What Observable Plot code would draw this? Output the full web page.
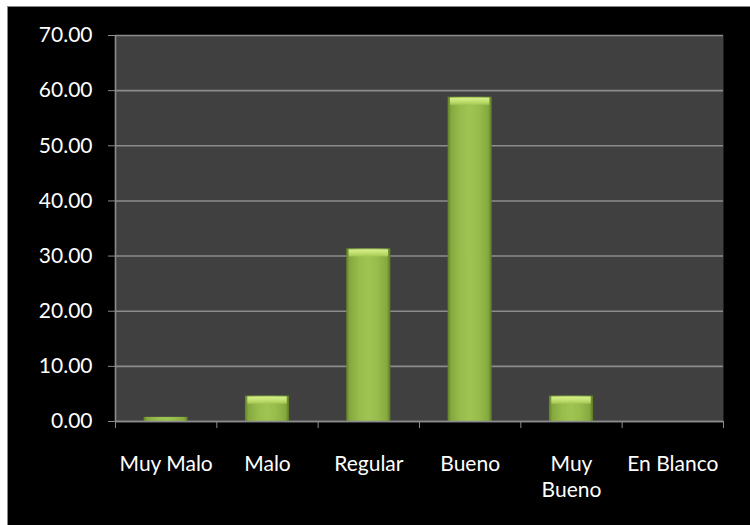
<!DOCTYPE html>
<html>
<head>
<meta charset="utf-8">
<script src="https://cdn.jsdelivr.net/npm/d3@7"></script>
<script src="https://cdn.jsdelivr.net/npm/@observablehq/plot@0.6"></script>
<style>
  html, body { margin: 0; padding: 0; background: #ffffff; }
  #wrap {
    position: absolute; left: 7px; top: 6px;
    width: 742px; height: 518px;
    background: #000000;
    border-left: 1px solid #8a8a8a; border-top: 1px solid #8a8a8a;
    overflow: hidden;
  }
  #wrap svg { display: block; }
</style>
</head>
<body>
<div id="wrap"></div>
<script>
const categories = ["Muy Malo", "Malo", "Regular", "Bueno", "Muy Bueno", "En Blanco"];
const tickLabels = ["Muy Malo", "Malo", "Regular", "Bueno", "Muy\nBueno", "En Blanco"];
const values = [0.75, 4.6, 31.3, 58.8, 4.6, 0];
const yTicks = [0, 10, 20, 30, 40, 50, 60, 70];

const data = categories.map((c, i) => ({ cat: c, label: tickLabels[i], i, v: values[i] }));
const bars = data.filter(d => d.v > 0);
const bevels = data.filter(d => d.v > 2);

const font = "Lato, 'Open Sans', sans-serif";

const chart = Plot.plot({
  width: 742,
  height: 518,
  marginLeft: 107,
  marginRight: 27,
  marginTop: 28,
  marginBottom: 104,
  style: { background: "#000000", color: "#ffffff", fontFamily: font, fontSize: "21px" },
  x: { type: "linear", domain: [0, categories.length] },
  y: { domain: [0, 70] },
  marks: [
    Plot.frame({ fill: "#404040", stroke: null }),
    Plot.gridY(yTicks, { stroke: "#8c8c8c", strokeOpacity: 1, strokeWidth: 1.6 }),
    Plot.rect(bars, {
      x1: d => d.i, x2: d => d.i + 1, y1: 0, y2: "v",
      insetLeft: 28.6, insetRight: 28.6,
      fill: "url(#barGrad)"
    }),
    Plot.rect(bevels, {
      x1: d => d.i, x2: d => d.i + 1, y1: "v", y2: "v",
      insetLeft: 31, insetRight: 31, insetTop: 1, insetBottom: -8,
      fill: "url(#bevelGrad)"
    }),
    Plot.ruleX([0], { stroke: "#8c8c8c", strokeWidth: 1.6 }),
    Plot.ruleY([0], { stroke: "#8c8c8c", strokeWidth: 1.6 }),
    Plot.axisY({
      ticks: yTicks, tickFormat: d3.format(".2f"), tickSize: 7, tickPadding: 16,
      stroke: "#8c8c8c", fill: "#ffffff", label: null, fontSize: 21
    }),
    Plot.axisX({
      ticks: d3.range(0, categories.length + 1), tickFormat: () => "", tickSize: 7,
      stroke: "#8c8c8c", label: null
    }),
    Plot.text(data, {
      x: d => d.i + 0.5, text: "label", frameAnchor: "bottom", lineAnchor: "top",
      dy: 31, lineHeight: 1.24, fill: "#ffffff", fontSize: 21
    })
  ]
});

const svg = d3.select(chart);
const defs = svg.insert("defs", ":first-child");
const g = defs.append("linearGradient").attr("id", "barGrad").attr("x1", "0").attr("x2", "1").attr("y1", "0").attr("y2", "0");
[[0, "#62802a"], [0.08, "#86a93f"], [0.3, "#98bd4d"], [0.5, "#9fc452"], [0.7, "#98bd4d"], [0.92, "#86a93f"], [1, "#5a7725"]]
  .forEach(([o, c]) => g.append("stop").attr("offset", o).attr("stop-color", c));
const b = defs.append("linearGradient").attr("id", "bevelGrad").attr("x1", "0").attr("x2", "0").attr("y1", "0").attr("y2", "1");
[[0, "#d6f08a"], [0.5, "#c2e070"], [1, "#a3c854"]]
  .forEach(([o, c]) => b.append("stop").attr("offset", o).attr("stop-color", c));

document.getElementById("wrap").appendChild(chart);
</script>
</body>
</html>
